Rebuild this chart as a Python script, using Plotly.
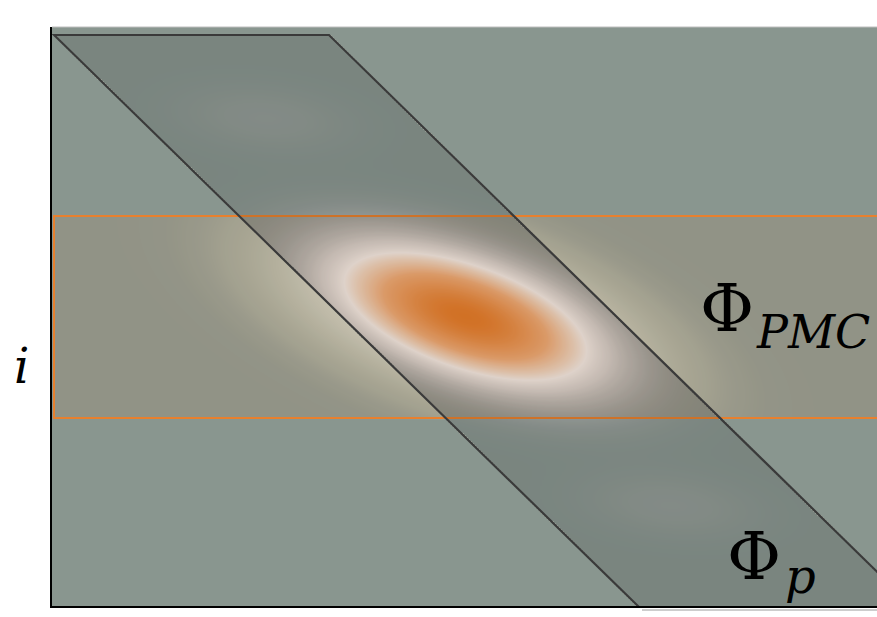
import numpy as np
import plotly.graph_objects as go

# ---- data (plot coordinates, x: 0..825, y: 0..579) ----
grid_x = np.arange(0, 828, 2)
grid_y = np.arange(0, 582, 2)

# main (PMC) peak parameters
peak_center = (413, 290)
peak_sigmas = (84, 34)
peak_angle_deg = -19
peak_amp = 1.0
halo_scale = 0.17      # peak level that saturates the outside halo colours
halo_gamma = 0.6       # spreads the halo further out

# faint side peaks inside the Phi_p band
side_centers = [(213, 488), (618, 101)]
side_sigmas = (60, 22)
side_angle_deg = -6
side_amp = 0.025

band_pmc_y = (188, 390)           # horizontal band (Phi_PMC)
band_p_corners = [(2, 571), (277, 571), (864, -4), (590, -4)]  # diagonal band (Phi_p)


def gauss(X, Y, c, s, ang, a):
    t = np.deg2rad(ang)
    dx, dy = X - c[0], Y - c[1]
    u = dx * np.cos(t) + dy * np.sin(t)
    v = -dx * np.sin(t) + dy * np.cos(t)
    return a * np.exp(-0.5 * ((u / s[0]) ** 2 + (v / s[1]) ** 2))


def inside_poly(X, Y, pts):
    m = np.ones_like(X, dtype=bool)
    n = len(pts)
    for i in range(n):
        x0, y0 = pts[i]
        x1, y1 = pts[(i + 1) % n]
        cross = (x1 - x0) * (Y - y0) - (y1 - y0) * (X - x0)
        m &= cross <= 0
    return m


X, Y = np.meshgrid(grid_x, grid_y)
G = gauss(X, Y, peak_center, peak_sigmas, peak_angle_deg, peak_amp)
Gs = G.copy()
for c in side_centers:
    Gs = Gs + gauss(X, Y, c, side_sigmas, side_angle_deg, side_amp)
in_p = inside_poly(X, Y, band_p_corners)
in_pmc = (Y >= band_pmc_y[0]) & (Y <= band_pmc_y[1])
halo = np.minimum(0.5 * (G / halo_scale) ** halo_gamma, 0.499)
# lower half of the colour scale: halo inside PMC band only; upper half: inside Phi_p band
Z = np.where(in_p, 0.5002 + 0.4998 * Gs, np.where(in_pmc, halo, 0.0))
Z = np.round(Z, 4)

bg = "rgb(137,150,143)"
colorscale = [
    [0.0, bg],
    [0.02, "rgb(139,151,144)"],
    [0.04, "rgb(144,155,147)"],
    [0.1, "rgb(157,166,154)"],
    [0.25, "rgb(173,180,167)"],
    [0.42, "rgb(186,192,180)"],
    [0.5, "rgb(190,196,184)"],
    [0.5002, bg],
    [0.505, "rgb(141,152,146)"],
    [0.515, "rgb(150,158,153)"],
    [0.54, "rgb(172,176,174)"],
    [0.55, "rgb(181,184,182)"],
    [0.6, "rgb(219,217,215)"],
    [0.66, "rgb(252,248,245)"],
    [0.7, "rgb(250,226,206)"],
    [0.8, "rgb(247,178,124)"],
    [1.0, "rgb(236,128,42)"],
]

fig = go.Figure()
fig.add_trace(go.Heatmap(x=grid_x, y=grid_y, z=Z, colorscale=colorscale,
                         zmin=0, zmax=1, zsmooth="best", showscale=False,
                         hoverinfo="skip"))

W, H = 877, 617
L, T, B = 52, 27, 11
PW, PH = W - L, H - T - B  # 825 x 579


def px(xs):  # screen x -> paper x
    return (xs - L) / PW


def py(ys):  # screen y -> paper y
    return (H - B - ys) / PH


shapes = []
shapes.append(dict(type="rect", xref="x", yref="y", x0=2, x1=900,
                   y0=band_pmc_y[0], y1=band_pmc_y[1],
                   fillcolor="rgba(232,125,46,0.09)",
                   line=dict(color="rgb(232,128,46)", width=2), layer="above"))
path = "M " + " L ".join(f"{x},{y}" for x, y in band_p_corners) + " Z"
shapes.append(dict(type="path", xref="x", yref="y", path=path,
                   fillcolor="rgba(0,0,0,0.11)",
                   line=dict(color="rgb(58,58,58)", width=2.2), layer="above"))
shapes.append(dict(type="line", xref="paper", yref="paper", x0=0, x1=1, y0=1, y1=1,
                   line=dict(color="rgb(190,190,190)", width=1)))
shapes.append(dict(type="line", xref="paper", yref="paper", x0=px(642), x1=1,
                   y0=py(610), y1=py(610), line=dict(color="rgb(205,205,205)", width=2)))
fig.update_layout(shapes=shapes)

serif = "DejaVu Serif"
ann = []
ann.append(dict(text="<i>i</i>", xref="paper", yref="paper", x=px(21), y=py(366),
                showarrow=False, xanchor="center", yanchor="middle",
                font=dict(family=serif, size=48, color="black")))
ann.append(dict(text="Φ", xref="paper", yref="paper", x=px(727), y=py(308),
                showarrow=False, xanchor="center", yanchor="middle",
                font=dict(family=serif, size=66, color="black")))
ann.append(dict(text="<i>PMC</i>", xref="paper", yref="paper", x=px(754), y=py(332),
                showarrow=False, xanchor="left", yanchor="middle",
                font=dict(family=serif, size=46, color="black")))
ann.append(dict(text="Φ", xref="paper", yref="paper", x=px(754), y=py(556),
                showarrow=False, xanchor="center", yanchor="middle",
                font=dict(family=serif, size=66, color="black")))
ann.append(dict(text="<i>p</i>", xref="paper", yref="paper", x=px(783), y=py(576),
                showarrow=False, xanchor="left", yanchor="middle",
                font=dict(family=serif, size=48, color="black")))
fig.update_layout(annotations=ann)

fig.update_layout(
    width=W, height=H,
    margin=dict(l=L, r=0, t=T, b=B),
    paper_bgcolor="white", plot_bgcolor=bg,
    showlegend=False,
    xaxis=dict(range=[0, 825], showgrid=False, zeroline=False, showticklabels=False,
               ticks="", showline=True, linecolor="black", linewidth=2),
    yaxis=dict(range=[0, 579], showgrid=False, zeroline=False, showticklabels=False,
               ticks="", showline=True, linecolor="black", linewidth=2),
)

fig.write_html("out.html", config={"displayModeBar": False},
               post_script="document.body.style.margin='0';document.body.style.overflow='hidden';")
